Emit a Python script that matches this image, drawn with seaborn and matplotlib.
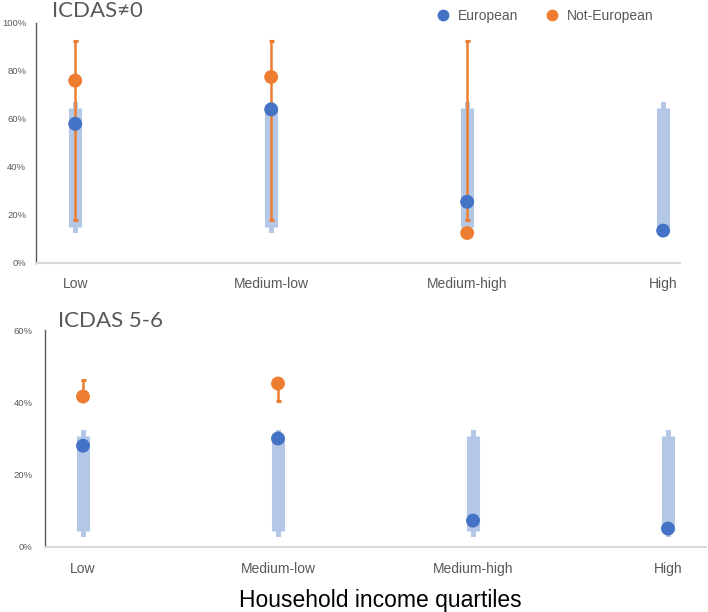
import numpy as np
import pandas as pd
import matplotlib
matplotlib.use("Agg")
import matplotlib.pyplot as plt
from matplotlib.ticker import FuncFormatter
import seaborn as sns

sns.set_style("white")
plt.rcParams['font.family'] = ['Liberation Sans', 'DejaVu Sans']

categories = ["Low", "Medium-low", "Medium-high", "High"]

# ICDAS != 0 (percent)
top_eu = [58, 64, 25.5, 13.5]
top_eu_lo = [15, 15, 15, 15]
top_eu_hi = [64.5, 64.5, 64.5, 64.5]
top_neu = [76, 77.5, 12.5]
top_neu_lo = [18, 18, 18]
top_neu_hi = [92.5, 92.5, 92.5]

# ICDAS 5-6 (percent)
bot_eu = [28, 30, 7.3, 5.1]
bot_eu_lo = [4.5, 4.5, 4.5, 4.5]
bot_eu_hi = [30.8, 30.8, 30.8, 30.8]
bot_neu = [41.6, 45.2]
bot_neu_lo = [41.6, 40.4]
bot_neu_hi = [46.1, 45.2]

BLUE = "#4472C4"
ORANGE = "#ED7D31"
LIGHT = "#B4C7E7"
GREY = "#595959"

W, H = 708, 612
fig = plt.figure(figsize=(W / 100, H / 100), dpi=100)


def px_axes(left, top, right, bottom):
    return fig.add_axes([left / W, 1 - bottom / H, (right - left) / W, (bottom - top) / H])


def make_df(eu, neu):
    rows = [(categories[i], v, "Not-European") for i, v in enumerate(neu)]
    rows += [(categories[i], v, "European") for i, v in enumerate(eu)]
    return pd.DataFrame(rows, columns=["quartile", "pct", "group"])


def interval(ax, lo, hi, color, lw, capsize, capthick, z):
    lo = np.array(lo, dtype=float)
    hi = np.array(hi, dtype=float)
    eb = ax.errorbar(np.arange(len(lo)), (lo + hi) / 2, yerr=(hi - lo) / 2,
                     fmt="none", ecolor=color, elinewidth=lw, capsize=capsize,
                     capthick=capthick, zorder=z)
    for c in eb[2]:
        c.set_capstyle("butt")


def panel(ax, eu, eu_lo, eu_hi, neu, neu_lo, neu_hi, ymax, step, legend, ypad, xpad):
    interval(ax, eu_lo, eu_hi, LIGHT, 9.4, 1.8, 8.6, 1)
    interval(ax, neu_lo, neu_hi, ORANGE, 1.8, 1.8, 2.2, 2)
    sns.scatterplot(data=make_df(eu, neu), x="quartile", y="pct", hue="group",
                    hue_order=["European", "Not-European"],
                    palette={"European": BLUE, "Not-European": ORANGE},
                    s=100, linewidth=0, zorder=3, ax=ax, legend=legend)
    ax.set_ylim(0, ymax)
    ax.set_yticks(np.arange(0, ymax + 1, step))
    ax.yaxis.set_major_formatter(FuncFormatter(lambda v, p: f"{v:.0f}%"))
    ax.tick_params(axis="y", length=0, labelsize=6.8, labelcolor=GREY, pad=ypad)
    ax.tick_params(axis="x", length=0, labelsize=10, labelcolor=GREY, pad=xpad)
    ax.set_xlabel("")
    ax.set_ylabel("")
    sns.despine(ax=ax)
    ax.spines["left"].set_color(GREY)
    ax.spines["left"].set_linewidth(1.0)
    ax.spines["bottom"].set_color("#D9D9D9")
    ax.spines["bottom"].set_linewidth(1.5)


ax1 = px_axes(36, 23, 680, 263)
panel(ax1, top_eu, top_eu_lo, top_eu_hi, top_neu, top_neu_lo, top_neu_hi, 100, 20, True, 7, 10)
ax1.set_xlim(-0.2, 3.086)
sns.move_legend(ax1, "center", bbox_to_anchor=(0.785, 1.03), ncol=2, frameon=False,
                title=None, fontsize=10, handletextpad=0.1, columnspacing=1.4,
                markerscale=0.85, labelcolor=GREY)

ax2 = px_axes(45, 330, 706, 547)
panel(ax2, bot_eu, bot_eu_lo, bot_eu_hi, bot_neu, bot_neu_lo, bot_neu_hi, 60, 20, False, 9, 11)
ax2.set_xlim(-0.195, 3.195)

fig.text(52 / W, 1 - 17 / H, "ICDAS≠0", fontsize=16, color=GREY, va="baseline",
         family=["Lato", "DejaVu Sans"])
fig.text(58 / W, 1 - 327 / H, "ICDAS 5-6", fontsize=16, color=GREY, va="baseline",
         family=["Lato", "DejaVu Sans"])
fig.text(380 / W, 1 - 600 / H, "Household income quartiles", fontsize=16.5,
         color="black", ha="center", va="center")

fig.savefig("out.png", dpi=100)
